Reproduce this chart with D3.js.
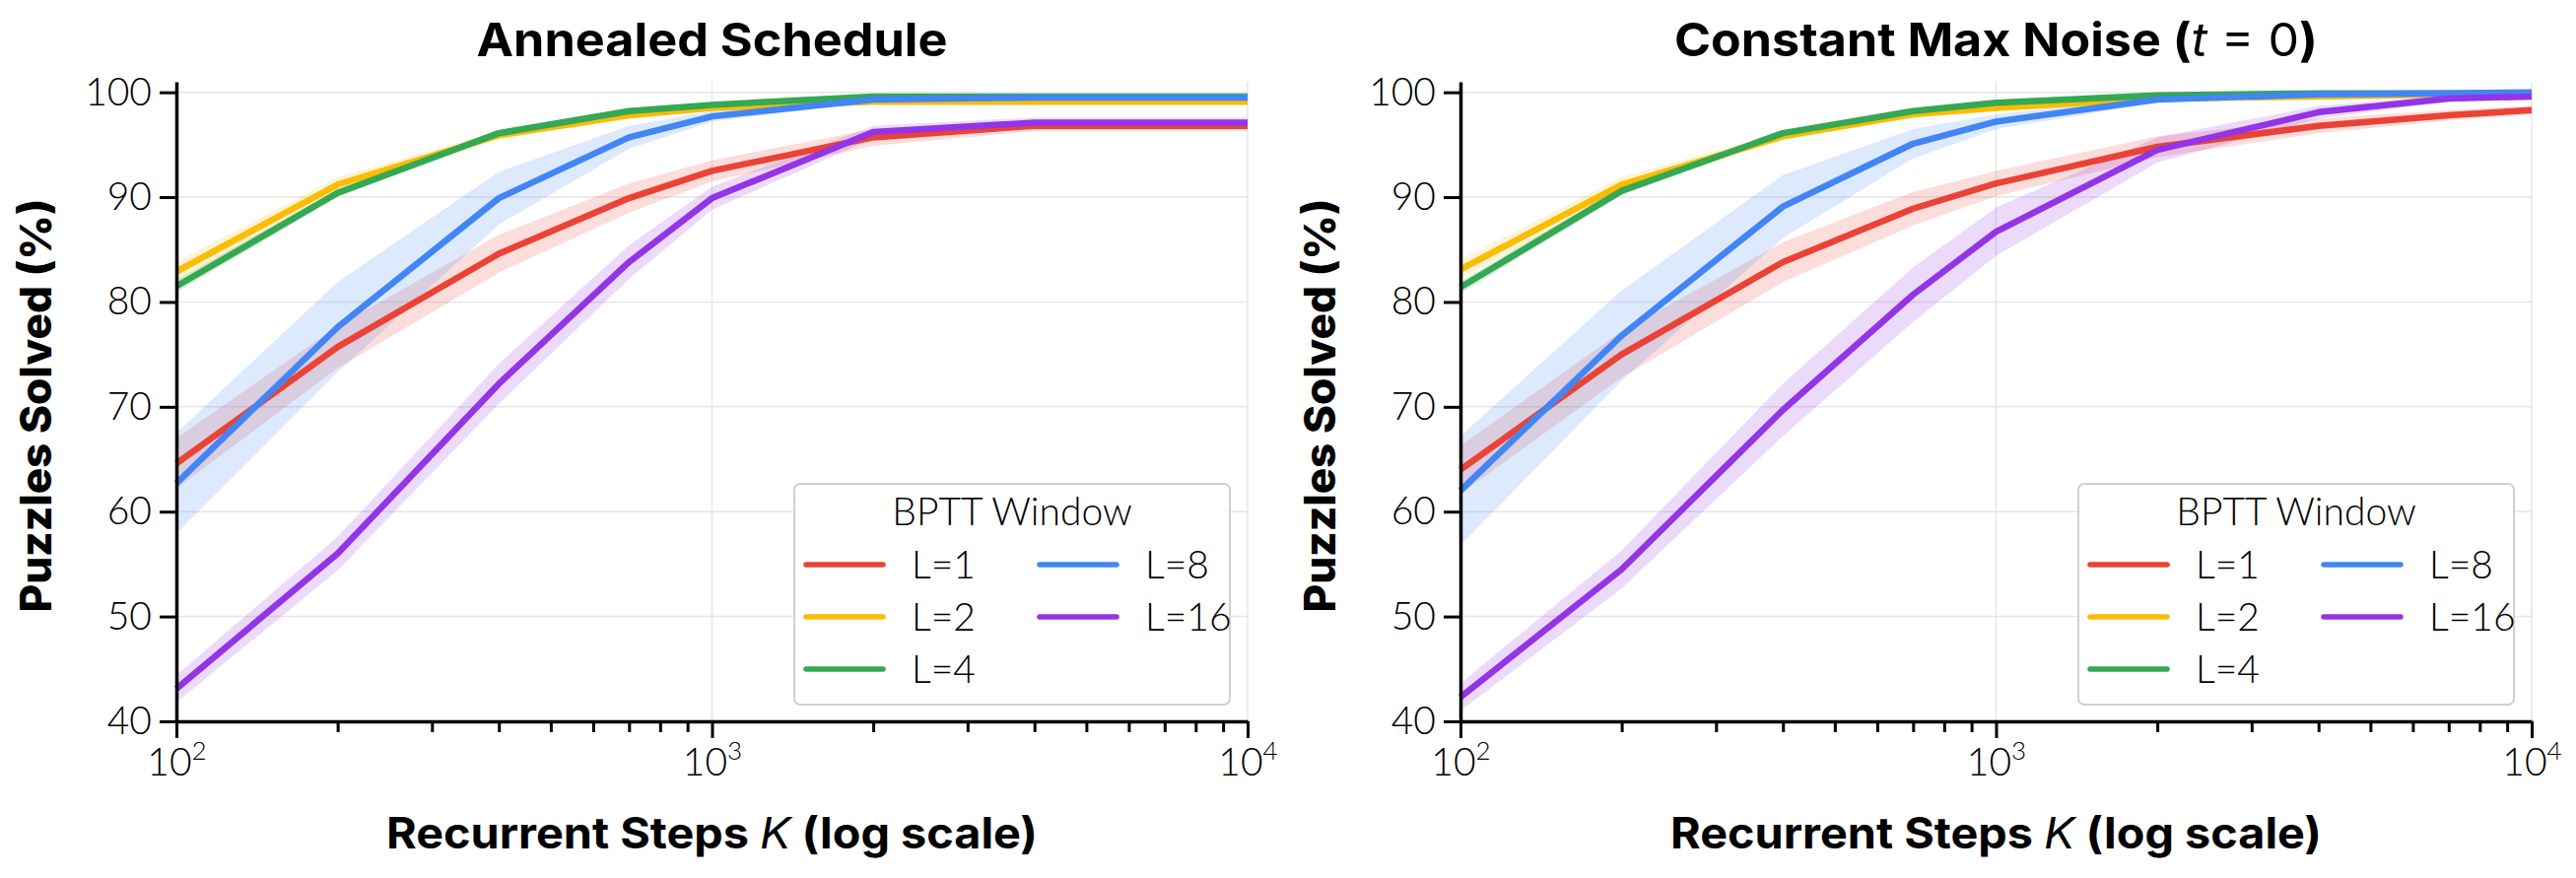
<!DOCTYPE html>
<html>
<head>
<meta charset="utf-8">
<script src="https://cdn.jsdelivr.net/npm/d3@7"></script>
<style>
  body { margin: 0; background: #fff; }
  svg text { fill: #000; }
</style>
</head>
<body>
<div id="chart"></div>
<script>
// recurrent steps K (x values, shared by both panels)
var steps = [100, 200, 400, 700, 1000, 2000, 4000, 7000, 10000];
var windows = ["L=1", "L=2", "L=4", "L=8", "L=16"];
var colors = ["#EA4335", "#FBBC04", "#34A853", "#4285F4", "#9334E6"];
var yTicks = [40, 50, 60, 70, 80, 90, 100];
var xMajor = [100, 1000, 10000];
var xMinor = [200, 300, 400, 500, 600, 700, 800, 900, 2000, 3000, 4000, 5000, 6000, 7000, 8000, 9000];

// Annealed Schedule : mean and band half width
var annL1  = [64.6, 75.7, 84.6, 89.9, 92.5, 95.7, 96.8, 96.8, 96.8];
var annL2  = [82.9, 91.2, 95.9, 97.8, 98.5, 99.1, 99.1, 99.1, 99.1];
var annL4  = [81.5, 90.4, 96.1, 98.2, 98.8, 99.6, 99.6, 99.6, 99.6];
var annL8  = [62.7, 77.6, 89.9, 95.7, 97.7, 99.3, 99.5, 99.5, 99.5];
var annL16 = [43.1, 56.0, 72.2, 83.8, 89.9, 96.2, 97.1, 97.1, 97.1];
var annErrL1  = [2.4, 2.0, 1.8, 1.4, 1.0, 0.8, 0.5, 0.5, 0.5];
var annErrL2  = [0.9, 0.7, 0.4, 0.3, 0.2, 0.15, 0.1, 0.1, 0.1];
var annErrL4  = [0.6, 0.4, 0.3, 0.2, 0.15, 0.1, 0.1, 0.1, 0.1];
var annErrL8  = [4.8, 4.3, 2.5, 1.1, 0.5, 0.2, 0.1, 0.1, 0.1];
var annErrL16 = [1.3, 1.6, 1.9, 1.6, 1.1, 0.6, 0.5, 0.5, 0.5];

// Constant Max Noise (t = 0)
var conL1  = [64.0, 75.0, 83.8, 88.9, 91.3, 94.8, 96.8, 97.8, 98.3];
var conL2  = [83.1, 91.2, 95.8, 97.9, 98.5, 99.4, 99.6, 99.8, 99.9];
var conL4  = [81.4, 90.6, 96.1, 98.2, 99.0, 99.7, 99.9, 99.9, 99.9];
var conL8  = [62.0, 76.8, 89.1, 95.1, 97.2, 99.3, 99.8, 99.9, 100.0];
var conL16 = [42.3, 54.5, 69.7, 80.7, 86.7, 94.5, 98.1, 99.4, 99.6];
var conErrL1  = [2.3, 2.2, 1.9, 1.6, 1.2, 1.0, 0.7, 0.5, 0.4];
var conErrL2  = [0.9, 0.7, 0.4, 0.3, 0.2, 0.1, 0.1, 0.1, 0.1];
var conErrL4  = [0.6, 0.4, 0.3, 0.2, 0.15, 0.1, 0.1, 0.1, 0.1];
var conErrL8  = [5.2, 4.3, 3.0, 1.4, 0.7, 0.3, 0.1, 0.1, 0.1];
var conErrL16 = [1.3, 1.8, 2.5, 2.6, 2.3, 1.2, 0.6, 0.3, 0.2];

var W = 2614, H = 891;
var tickFont = "Lato, 'Noto Sans', sans-serif";
var boldFont = "Inter, 'Noto Sans', sans-serif";
var labelFont = "Inter, 'Noto Sans', sans-serif";

var svg = d3.select("#chart").append("svg")
	.attr("width", W)
	.attr("height", H);

function fit(sel, w) {
	sel.attr("textLength", w).attr("lengthAdjust", "spacingAndGlyphs");
}

function drawPanel(left, titleParts, titleW, means, errs) {
	var plotW = 1087, top = 83, bottom = 732;
	var x = d3.scaleLog().domain([100, 10000]).range([0, plotW]);
	var y = d3.scaleLinear().domain([40, 101]).range([bottom, top]);

	var g = svg.append("g").attr("transform", "translate(" + left + ",0)");

	// grid
	g.append("g").selectAll("line.h")
		.data(yTicks).enter().append("line")
		.attr("x1", 0).attr("x2", plotW)
		.attr("y1", function(d) { return y(d); })
		.attr("y2", function(d) { return y(d); })
		.style("stroke", "#e6e6e6").style("stroke-width", 1.5);
	g.append("g").selectAll("line.v")
		.data(xMajor).enter().append("line")
		.attr("x1", function(d) { return x(d); })
		.attr("x2", function(d) { return x(d); })
		.attr("y1", top).attr("y2", bottom)
		.style("stroke", "#e6e6e6").style("stroke-width", 1.5);

	// bands then lines
	var area = d3.area()
		.x(function(d) { return x(d.k); })
		.y0(function(d) { return y(d.v - d.e); })
		.y1(function(d) { return y(d.v + d.e); });
	var line = d3.line()
		.x(function(d) { return x(d.k); })
		.y(function(d) { return y(d.v); });

	var series = means.map(function(m, i) {
		return steps.map(function(k, j) { return {k: k, v: m[j], e: errs[i][j]}; });
	});

	g.selectAll("path.band")
		.data(series).enter().append("path")
		.attr("class", "band")
		.attr("d", area)
		.style("fill", function(d, i) { return colors[i]; })
		.style("fill-opacity", 0.18)
		.style("stroke", "none");

	g.selectAll("path.series")
		.data(series).enter().append("path")
		.attr("class", "series")
		.attr("d", line)
		.style("fill", "none")
		.style("stroke", function(d, i) { return colors[i]; })
		.style("stroke-width", 6.5)
		.style("stroke-linejoin", "round");

	// axes
	var yAxis = g.append("g")
		.call(d3.axisLeft(y).tickValues(yTicks).tickSize(17).tickSizeOuter(0).tickPadding(8));
	var xAxis = g.append("g")
		.attr("transform", "translate(0," + bottom + ")")
		.call(d3.axisBottom(x).tickValues(xMajor).tickSize(17).tickSizeOuter(0).tickPadding(10).tickFormat(function() { return ""; }));
	g.append("g")
		.attr("transform", "translate(0," + bottom + ")")
		.call(d3.axisBottom(x).tickValues(xMinor).tickSize(11).tickSizeOuter(0).tickFormat(function() { return ""; }))
		.select(".domain").remove();

	g.selectAll(".domain").style("stroke", "#000").style("stroke-width", 3.5);
	g.selectAll(".tick line").style("stroke", "#000").style("stroke-width", 3);

	yAxis.selectAll(".tick text")
		.style("font-family", tickFont).style("font-size", "39px").style("font-weight", 300);

	xAxis.selectAll(".tick text").each(function(d) {
		var t = d3.select(this).text(null)
			.attr("y", 55)
			.attr("dy", null)
			.style("font-family", tickFont).style("font-size", "39px").style("font-weight", 300);
		t.append("tspan").text("10");
		t.append("tspan").text(Math.round(Math.log10(d)))
			.attr("dy", -16).style("font-size", "26px");
	});

	// title
	var title = g.append("text")
		.attr("x", plotW / 2).attr("y", 57)
		.attr("text-anchor", "middle")
		.style("font-family", boldFont).style("font-size", "47px").style("font-weight", 700);
	titleParts.forEach(function(p) {
		title.append("tspan").text(p.t)
			.style("font-style", p.i ? "italic" : "normal")
			.style("font-weight", p.w || 700);
	});
	fit(title, titleW);

	var xl = g.append("text")
		.attr("x", plotW / 2).attr("y", 861)
		.attr("text-anchor", "middle")
		.style("font-family", boldFont).style("font-size", "44px").style("font-weight", 700);
	xl.append("tspan").text("Recurrent Steps ");
	xl.append("tspan").text("K").style("font-style", "italic").style("font-weight", 400);
	xl.append("tspan").text(" (log scale)");
	fit(xl, 661);

	var yl = g.append("text")
		.attr("transform", "translate(-127," + ((top + bottom) / 2 + 4) + ") rotate(-90)")
		.attr("text-anchor", "middle")
		.style("font-family", labelFont).style("font-size", "44px").style("font-weight", 800)
		.text("Puzzles Solved (%)");
	fit(yl, 420);

	// legend
	var lg = g.append("g").attr("transform", "translate(627,491)");
	lg.append("rect")
		.attr("width", 442).attr("height", 224)
		.attr("rx", 6).attr("ry", 6)
		.style("fill", "#fff").style("fill-opacity", 0.85)
		.style("stroke", "#d0d0d0").style("stroke-width", 2);
	lg.append("text")
		.attr("x", 221).attr("y", 42)
		.attr("text-anchor", "middle")
		.style("font-family", tickFont).style("font-size", "39px").style("font-weight", 300)
		.text("BPTT Window");
	var item = lg.selectAll("g.item")
		.data(windows).enter().append("g")
		.attr("class", "item")
		.attr("transform", function(d, i) {
			var col = i < 3 ? 0 : 1, row = i < 3 ? i : i - 3;
			return "translate(" + (12 + col * 237) + "," + (82 + row * 53) + ")";
		});
	item.append("line")
		.attr("x1", 0).attr("x2", 78)
		.style("stroke", function(d, i) { return colors[i]; })
		.style("stroke-width", 5.5)
		.style("stroke-linecap", "round");
	item.append("text")
		.attr("x", 107).attr("y", 14)
		.style("font-family", tickFont).style("font-size", "39px").style("font-weight", 300)
		.text(function(d) { return d; });
}

drawPanel(179, [{t: "Annealed Schedule"}], 478,
	[annL1, annL2, annL4, annL8, annL16],
	[annErrL1, annErrL2, annErrL4, annErrL8, annErrL16]);

drawPanel(1482, [{t: "Constant Max Noise ("}, {t: "t", i: true, w: 400}, {t: " = ", w: 400}, {t: "0", w: 400}, {t: ")"}], 653,
	[conL1, conL2, conL4, conL8, conL16],
	[conErrL1, conErrL2, conErrL4, conErrL8, conErrL16]);
</script>
</body>
</html>
